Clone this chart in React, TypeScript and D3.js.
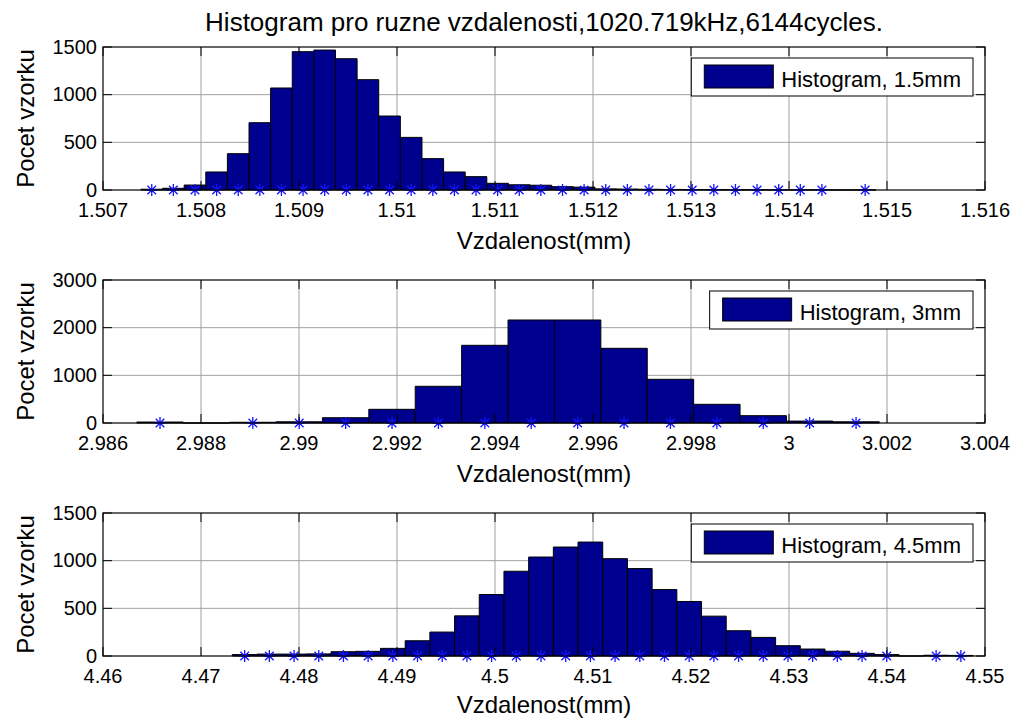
import * as d3 from "d3";

const W = 1014;
const H = 719;
const FONT = "'Liberation Sans', Arial, Helvetica, sans-serif";

const TITLE = "Histogram pro ruzne vzdalenosti,1020.719kHz,6144cycles.";
const X_LABEL = "Vzdalenost(mm)";
const Y_LABEL = "Pocet vzorku";

// 1.5 mm histogram (34 bins)
const counts15 = [
  8, 18, 52, 189, 381, 706, 1070, 1451, 1468, 1377, 1157, 776, 552, 329, 189,
  140, 70, 55, 50, 35, 30, 12, 10, 8, 6, 5, 4, 3, 3, 2, 2, 1, 0, 1,
];
const binStart15 = 1.507387;
const binStep15 = 0.0002206;
const xTicks15 = [1.507, 1.508, 1.509, 1.51, 1.511, 1.512, 1.513, 1.514, 1.515, 1.516];
const yTicks15 = [0, 500, 1000, 1500];
const legend15 = "Histogram, 1.5mm";

// 3 mm histogram (16 bins)
const counts3 = [20, 0, 15, 25, 111, 287, 770, 1630, 2161, 2161, 1567, 917, 392, 154, 40, 25];
const binStart3 = 2.98669;
const binStep3 = 0.000947;
const xTicks3 = [2.986, 2.988, 2.99, 2.992, 2.994, 2.996, 2.998, 3, 3.002, 3.004];
const yTicks3 = [0, 1000, 2000, 3000];
const legend3 = "Histogram, 3mm";

// 4.5 mm histogram (30 bins)
const counts45 = [
  15, 20, 20, 22, 45, 49, 80, 160, 251, 421, 645, 889, 1038, 1143, 1195, 1021,
  917, 697, 572, 418, 265, 195, 108, 73, 50, 28, 15, 0, 8, 6,
];
const binStart45 = 4.473194;
const binStep45 = 0.00252;
const xTicks45 = [4.46, 4.47, 4.48, 4.49, 4.5, 4.51, 4.52, 4.53, 4.54, 4.55];
const yTicks45 = [0, 500, 1000, 1500];
const legend45 = "Histogram, 4.5mm";

const panels = [
  { counts: counts15, start: binStart15, step: binStep15, xTicks: xTicks15, yTicks: yTicks15, legend: legend15, top: 47 },
  { counts: counts3, start: binStart3, step: binStep3, xTicks: xTicks3, yTicks: yTicks3, legend: legend3, top: 280 },
  { counts: counts45, start: binStart45, step: binStep45, xTicks: xTicks45, yTicks: yTicks45, legend: legend45, top: 513 },
];

const LEFT = 103;
const RIGHT = 985;
const PH = 143;
const TICK = 9;
const BAR = "#00008f";
const fmt = d3.format("~g");

let ctx: CanvasRenderingContext2D | null = null;
function textWidth(s: string, size: number) {
  if (!ctx) ctx = document.createElement("canvas").getContext("2d");
  if (!ctx) return s.length * size * 0.5;
  ctx.font = `${size}px 'Liberation Sans', Arial, sans-serif`;
  return ctx.measureText(s).width;
}

function Panel({ p }: { p: (typeof panels)[number] }) {
  const top = p.top;
  const bottom = top + PH;
  const x = d3
    .scaleLinear()
    .domain([p.xTicks[0], p.xTicks[p.xTicks.length - 1]])
    .range([LEFT, RIGHT]);
  const y = d3
    .scaleLinear()
    .domain([0, p.yTicks[p.yTicks.length - 1]])
    .range([bottom, top]);

  const bins = p.counts.map((c, i) => ({
    c,
    x0: p.start + i * p.step,
    x1: p.start + (i + 1) * p.step,
  }));

  const legW = 13 + 69 + 8 + textWidth(p.legend, 22) + 12;
  const legX = RIGHT - 12 - legW;
  const legY = top + 11;

  return (
    <g>
      {/* grid */}
      {p.xTicks.slice(1, -1).map((t) => (
        <line key={"gx" + t} x1={x(t)} x2={x(t)} y1={top} y2={bottom} stroke="#a0a0a0" strokeWidth={1} />
      ))}
      {p.yTicks.slice(1, -1).map((t) => (
        <line key={"gy" + t} x1={LEFT} x2={RIGHT} y1={y(t)} y2={y(t)} stroke="#a0a0a0" strokeWidth={1} />
      ))}

      {/* bars */}
      {bins.map((b, i) => {
        const x0 = x(b.x0);
        const x1 = x(b.x1);
        const y1 = y(b.c);
        return (
          <path
            key={i}
            d={`M${x0},${bottom}V${y1}H${x1}V${bottom}Z`}
            fill={BAR}
            stroke="#000"
            strokeWidth={1}
          />
        );
      })}

      {/* bin centre markers */}
      {bins
        .filter((b) => b.c > 0)
        .map((b, i) => (
          <path
            key={"s" + i}
            transform={`translate(${x((b.x0 + b.x1) / 2)},${bottom})`}
            d="M-6,0H6M0,-6V6M-4.3,-4.3L4.3,4.3M-4.3,4.3L4.3,-4.3"
            stroke="#1414ff"
            strokeWidth={1.3}
            fill="none"
          />
        ))}

      {/* axes box + ticks */}
      <rect x={LEFT} y={top} width={RIGHT - LEFT} height={PH} fill="none" stroke="#000" strokeWidth={1.2} />
      {p.xTicks.map((t) => (
        <g key={"tx" + t}>
          <line x1={x(t)} x2={x(t)} y1={bottom} y2={bottom - TICK} stroke="#000" />
          <line x1={x(t)} x2={x(t)} y1={top} y2={top + TICK} stroke="#000" />
          <text
            x={x(t)}
            y={bottom + 27}
            textAnchor="middle"
            fontSize={20}
            fontFamily={FONT}
            fill="#000"
          >
            {fmt(t)}
          </text>
        </g>
      ))}
      {p.yTicks.map((t) => (
        <g key={"ty" + t}>
          <line x1={LEFT} x2={LEFT + TICK} y1={y(t)} y2={y(t)} stroke="#000" />
          <line x1={RIGHT} x2={RIGHT - TICK} y1={y(t)} y2={y(t)} stroke="#000" />
          <text
            x={LEFT - 6}
            y={y(t)}
            dy="0.34em"
            textAnchor="end"
            fontSize={20}
            fontFamily={FONT}
            fill="#000"
          >
            {fmt(t)}
          </text>
        </g>
      ))}

      {/* axis labels */}
      <text
        x={(LEFT + RIGHT) / 2}
        y={Math.min(bottom + 59, H - 6)}
        textAnchor="middle"
        fontSize={24}
        fontFamily={FONT}
        fill="#000"
      >
        {X_LABEL}
      </text>
      <text
        transform={`translate(34,${top + PH / 2}) rotate(-90)`}
        textAnchor="middle"
        fontSize={24}
        fontFamily={FONT}
        fill="#000"
      >
        {Y_LABEL}
      </text>

      {/* legend */}
      <rect x={legX} y={legY} width={legW} height={38} fill="#fff" stroke="#000" strokeWidth={1} />
      <rect x={legX + 13} y={legY + 7} width={69} height={23} fill={BAR} stroke="#000" strokeWidth={1} />
      <text x={legX + 13 + 69 + 8} y={legY + 29} fontSize={22} fontFamily={FONT} fill="#000">
        {p.legend}
      </text>
    </g>
  );
}

export default function App() {
  return (
    <svg
      width={W}
      height={H}
      style={{ position: "absolute", left: 0, top: 0, background: "#fff" }}
    >
      <rect width={W} height={H} fill="#fff" />
      <text x={544} y={31} textAnchor="middle" fontSize={26} fontFamily={FONT} fill="#000">
        {TITLE}
      </text>
      {panels.map((p, i) => (
        <Panel key={i} p={p} />
      ))}
    </svg>
  );
}
